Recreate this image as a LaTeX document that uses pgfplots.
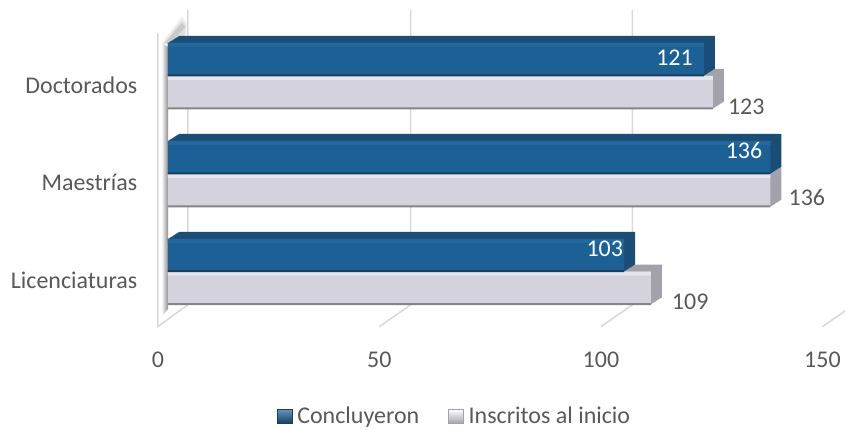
\documentclass[border=0pt]{standalone}
\usepackage{fontspec}
\setmainfont{Carlito}
\usepackage{pgfplots}
\usepackage{pgfplotstable}
\pgfplotsset{compat=1.18}
\definecolor{txt}{HTML}{595959}
\definecolor{gridc}{HTML}{D9D9D9}
\definecolor{bluef}{HTML}{1C6195}
\definecolor{bluel}{HTML}{22689F}
\definecolor{blued}{HTML}{1B4E77}
\definecolor{bluee}{HTML}{163F60}
\definecolor{greyf}{HTML}{D4D3DD}
\definecolor{greyl}{HTML}{E6E5ED}
\definecolor{greyd}{HTML}{A3A2AA}
\definecolor{greye}{HTML}{85848B}

% pos: category, val: value, dx/dy: label offset in pt
\pgfplotstableread{
pos val dx dy
2 121 -1 18.5
1 136 2 23
0 103 9 23
}\concluyeron
\pgfplotstableread{
pos val dx dy
2 123 15 -31
1 136 18 -24
0 109 21 -30
}\inscritos

% one series: extruded depth, front face, highlight and bottom edge
\newcommand{\barseries}[5]{%
  \pgfplotsinvokeforeach{14,13,...,1}{
    \addplot[forget plot, xbar, draw=none, fill=#3, bar width=33pt, bar shift=#2,
      xshift={10pt+##1*0.786pt}, yshift={##1*0.5pt}] table[x=val,y=pos] {#1};
  }
  \addplot[forget plot, xbar, draw=none, fill=#4, bar width=33pt, bar shift=#2, xshift=10pt]
    table[x=val,y=pos] {#1};
  \addplot[forget plot, xbar, draw=none, fill=#5, bar width=4pt, bar shift={#2+14.5pt}, xshift=10pt]
    table[x=val,y=pos] {#1};
}

\begin{document}
\begin{tikzpicture}
\begin{axis}[
  width=846pt, height=428pt, scale only axis,
  xmin=-35.626, xmax=155.13,
  ymin=-1.592, ymax=2.7755,
  clip=false,
  axis line style={draw=none},
  tick style={draw=none},
  xtick={0,50,100,150},
  ytick={0,1,2},
  yticklabels={Licenciaturas,Maestrías,Doctorados},
  tick label style={text=txt, font=\fontsize{24}{28}\selectfont},
  /pgf/number format/assume math mode=true,
  xticklabel style={anchor=center, yshift=68pt},
  yticklabel style={anchor=east, xshift=141pt, yshift=-9pt},
  legend cell align=left,
  legend columns=2,
  legend style={draw=none, fill=none, at={(axis description cs:0.5,0.0)},
    anchor=south, xshift=32pt, yshift=-2pt, font=\fontsize{24}{28}\selectfont\color{txt},
    /tikz/every odd column/.append style={column sep=3pt},
    /tikz/every even column/.append style={column sep=27pt}},
]
% back wall lines and floor lines
\addplot[forget plot, gridc, line width=1.6pt] coordinates {(0,2.439) (0,-0.561) (6.76,-0.337) (6.76,2.673)};
\addplot[forget plot, gridc, line width=1.6pt] coordinates {(50,-0.561) (57.05,-0.337) (57.05,2.673)};
\addplot[forget plot, gridc, line width=1.6pt] coordinates {(100,-0.561) (107.1,-0.337) (107.1,2.673)};
\addplot[forget plot, gridc, line width=1.6pt] coordinates {(150,-0.561) (155.13,-0.40)};
% wall shadow
\addplot[forget plot, draw=none, left color=white, right color=gray!90] coordinates {(0.8,2.33) (2.3,2.33) (2.3,-0.38) (0.8,-0.46)} -- cycle;
\addplot[forget plot, draw=none, fill=gray!12] coordinates {(0.8,2.33) (5.4,2.61) (6.5,2.55) (6.5,2.3) (2.3,2.3)} -- cycle;
\addplot[forget plot, draw=none, fill=gray!25] coordinates {(1.2,2.33) (5.4,2.57) (6.4,2.52) (6,2.4) (2.5,2.33)} -- cycle;
\addplot[forget plot, draw=none, fill=gray!42] coordinates {(1.7,2.34) (5.4,2.54) (6.2,2.5) (2.7,2.33)} -- cycle;

\barseries{\inscritos}{-16.5pt}{greyd}{greyf}{greyl}
\addplot[forget plot, xbar, draw=none, fill=greye, bar width=2pt, bar shift=-32.5pt, xshift=10pt] table[x=val,y=pos] {\inscritos};
\barseries{\concluyeron}{16.5pt}{blued}{bluef}{bluel}
\addplot[forget plot, xbar, draw=none, fill=bluee, bar width=2pt, bar shift=0.5pt, xshift=10pt] table[x=val,y=pos] {\concluyeron};

% value labels
\addplot[forget plot, xbar, draw=none, fill=none, bar width=33pt, bar shift=-16.5pt, xshift=10pt,
  visualization depends on={\thisrow{dx}\as\dx},
  visualization depends on={\thisrow{dy}\as\dy},
  nodes near coords,
  every node near coord/.append style={anchor=west, inner sep=0pt, text=txt,
    font=\fontsize{24}{28}\selectfont, xshift=\dx pt, yshift=\dy pt,
    /pgf/number format/assume math mode=true},
] table[x=val,y=pos] {\inscritos};
\addplot[forget plot, xbar, draw=none, fill=none, bar width=33pt, bar shift=16.5pt, xshift=10pt,
  visualization depends on={\thisrow{dx}\as\dx},
  visualization depends on={\thisrow{dy}\as\dy},
  nodes near coords,
  every node near coord/.append style={anchor=east, inner sep=0pt, text=white,
    font=\fontsize{24}{28}\selectfont, xshift=\dx pt-10pt, yshift=\dy pt,
    /pgf/number format/assume math mode=true},
] table[x=val,y=pos] {\concluyeron};

\addlegendimage{legend image code/.code={
  \draw[draw=bluee, top color=bluel!70!white, bottom color=bluee] (0pt,-7pt) rectangle (15pt,7pt);}}
\addlegendentry{Concluyeron}
\addlegendimage{legend image code/.code={
  \draw[draw=greyd, top color=white, bottom color=greyd] (0pt,-7pt) rectangle (15pt,7pt);}}
\addlegendentry{Inscritos al inicio}
\end{axis}
\end{tikzpicture}
\end{document}
